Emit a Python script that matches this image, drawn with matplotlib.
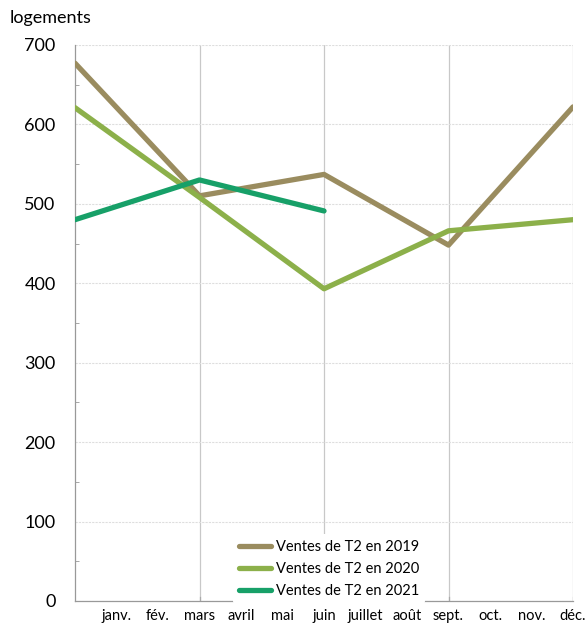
import numpy as np
import matplotlib.pyplot as plt
from matplotlib.ticker import MultipleLocator

plt.rcParams['font.family'] = ['Lato', 'DejaVu Sans']

months = ['janv.', 'fév.', 'mars', 'avril', 'mai', 'juin',
          'juillet', 'août', 'sept.', 'oct.', 'nov.', 'déc.']
# quarterly points: start of year, then end of mars, juin, sept., déc.
pos_quarters = [0, 3, 6, 9, 12]
ventes_2019 = [677, 510, 537, 448, 622]
ventes_2020 = [621, 508, 393, 466, 480]
ventes_2021 = [480, 530, 491]

colors = {'2019': '#9a8c5f', '2020': '#8cb04a', '2021': '#17a068'}

fig = plt.figure(figsize=(5.87, 6.24), dpi=100)
ax = fig.add_axes([0.1278, 0.0369, 0.8484, 0.8911])

ax.plot(pos_quarters, ventes_2019, color=colors['2019'], lw=3.8,
        solid_capstyle='round', label='Ventes de T2 en 2019', zorder=3)
ax.plot(pos_quarters, ventes_2020, color=colors['2020'], lw=3.8,
        solid_capstyle='round', label='Ventes de T2 en 2020', zorder=3)
ax.plot(pos_quarters[:3], ventes_2021, color=colors['2021'], lw=3.8,
        solid_capstyle='round', label='Ventes de T2 en 2021', zorder=4)

ax.set_xlim(0, 12)
ax.set_ylim(0, 700)

# y axis
ax.yaxis.set_major_locator(MultipleLocator(100))
ax.yaxis.set_minor_locator(MultipleLocator(50))
ax.tick_params(axis='y', which='major', length=0, labelsize=13, pad=14)
ax.tick_params(axis='y', which='minor', length=3, direction='in', color='#999999')
ax.grid(axis='y', which='major', color='#dedede', lw=0.8, ls=(0, (2, 1)), zorder=0)

# x axis: month labels, quarter gridlines
ax.set_xticks(range(1, 13))
ax.set_xticklabels(months, fontsize=10.5)
ax.tick_params(axis='x', length=0, pad=6)
for q in [3, 6, 9, 12]:
    ax.axvline(q, color='#c8c8c8', lw=0.9, zorder=1)
    ax.plot([q, q], [0, 5], color='#aaaaaa', lw=0.9, zorder=1)

for s in ['top', 'right']:
    ax.spines[s].set_visible(False)
for s in ['left', 'bottom']:
    ax.spines[s].set_color('#999999')
    ax.spines[s].set_linewidth(0.9)

leg = ax.legend(loc='lower left', bbox_to_anchor=(0.302, -0.018), frameon=True,
                fontsize=10.5, handlelength=2.25, handletextpad=0.3,
                labelspacing=0.55, borderpad=0.4)
leg.get_frame().set_edgecolor('none')
leg.get_frame().set_facecolor('white')
leg.get_frame().set_alpha(1)
leg.set_zorder(5)

fig.text(10 / 587, 1 - 18 / 624, 'logements', fontsize=13, va='center', ha='left')

fig.savefig('out.png', dpi=100)
